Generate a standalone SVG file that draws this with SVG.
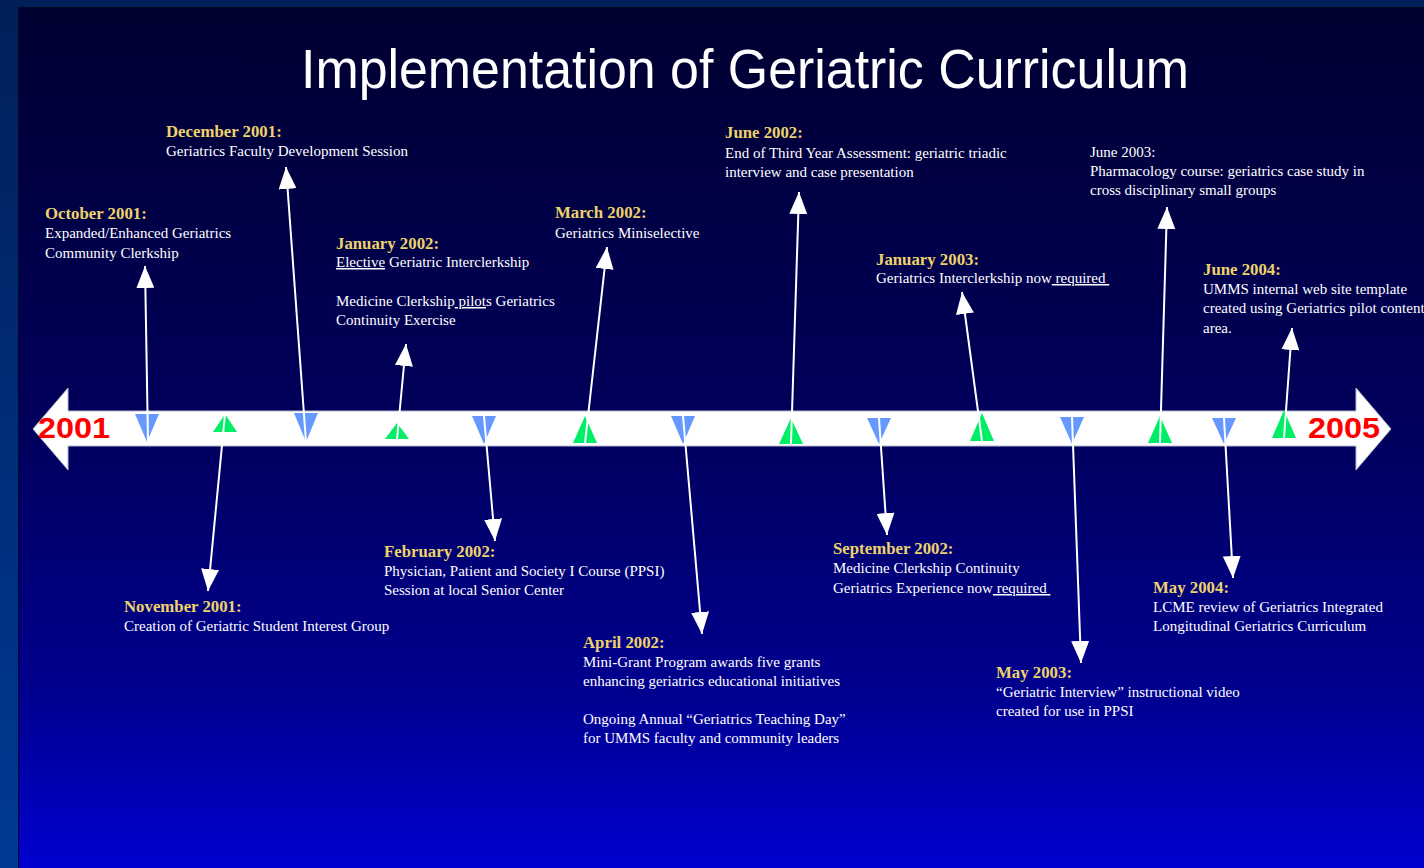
<svg xmlns="http://www.w3.org/2000/svg" width="1424" height="868" viewBox="0 0 1424 868">
<defs>
<linearGradient id="bg" x1="0" y1="0" x2="0" y2="1">
<stop offset="0" stop-color="#000030"/>
<stop offset="0.5" stop-color="#00005e"/>
<stop offset="0.8" stop-color="#000090"/>
<stop offset="1" stop-color="#0000d0"/>
</linearGradient>
<linearGradient id="frame" x1="0" y1="0" x2="0" y2="1">
<stop offset="0" stop-color="#001f5a"/>
<stop offset="1" stop-color="#003a94"/>
</linearGradient>
<marker id="ah" markerUnits="userSpaceOnUse" markerWidth="22" markerHeight="18" viewBox="0 0 22 18" refX="22" refY="9" orient="auto">
<path d="M0,0 L22,9 L0,18 z" fill="#ffffff"/>
</marker>
<style>
.t{font-family:"Liberation Sans",Arial,sans-serif;fill:#ffffff}
.yr{font-family:"Liberation Sans",Arial,sans-serif;font-weight:bold;font-size:29px;fill:#ff0000}
.h{font-family:"Liberation Serif","Times New Roman",serif;font-weight:bold;font-size:16.8px;fill:#eed36b}
.b{font-family:"Liberation Serif","Times New Roman",serif;font-size:15px;fill:#ffffff}
.u{text-decoration:underline}
.dn{fill:#6699ff}
.up{fill:#00ee66}
.c{stroke:#ffffff;stroke-width:2;fill:none;marker-end:url(#ah)}
</style>
</defs>
<rect x="0" y="0" width="1424" height="868" fill="url(#frame)"/>
<rect x="0" y="0" width="1424" height="8" fill="#001f5a"/>
<rect x="18" y="7" width="1406" height="861" fill="#000822"/>
<rect x="19" y="8" width="1405" height="860" fill="url(#bg)"/>
<text class="t" x="301" y="88" font-size="55" textLength="888" lengthAdjust="spacingAndGlyphs">Implementation of Geriatric Curriculum</text>
<g id="timeline">
<path d="M33,429 L68,388 L68,411 L1356,411 L1356,388 L1391,429 L1356,470 L1356,446 L68,446 L68,470 Z" fill="#ffffff" stroke="#b8b8d0" stroke-width="1"/>
<text class="yr" x="38" y="438" textLength="72" lengthAdjust="spacingAndGlyphs">2001</text>
<text class="yr" x="1308" y="438" textLength="72" lengthAdjust="spacingAndGlyphs">2005</text>
</g>
<g id="oct2001">
<polygon class="dn" points="135,414 159,414 147,442"/>
<text class="h" x="45" y="219">October 2001:</text>
<text class="b" x="45" y="238">Expanded/Enhanced Geriatrics</text>
<text class="b" x="45" y="258">Community Clerkship</text>
</g>
<g id="nov2001">
<polygon class="up" points="213,432 237,432 225,414"/>
<text class="h" x="124" y="612">November 2001:</text>
<text class="b" x="124" y="631">Creation of Geriatric Student Interest Group</text>
</g>
<g id="dec2001">
<polygon class="dn" points="294,413 318,413 306,442"/>
<text class="h" x="166" y="137">December 2001:</text>
<text class="b" x="166" y="156">Geriatrics Faculty Development Session</text>
</g>
<g id="jan2002">
<polygon class="up" points="385,439 409,439 397,423"/>
<text class="h" x="336" y="249">January 2002:</text>
<text class="b" x="336" y="267"><tspan class="u">Elective</tspan> Geriatric Interclerkship</text>
<text class="b" x="336" y="306">Medicine Clerkship<tspan class="u"> pilot</tspan>s Geriatrics</text>
<text class="b" x="336" y="325">Continuity Exercise</text>
</g>
<g id="feb2002">
<polygon class="dn" points="472,416 496,416 484,444"/>
<text class="h" x="384" y="557">February 2002:</text>
<text class="b" x="384" y="576">Physician, Patient and Society I Course (PPSI)</text>
<text class="b" x="384" y="595">Session at local Senior Center</text>
</g>
<g id="mar2002">
<polygon class="up" points="573,443 597,443 585,416"/>
<text class="h" x="555" y="218">March 2002:</text>
<text class="b" x="555" y="238">Geriatrics Miniselective</text>
</g>
<g id="apr2002">
<polygon class="dn" points="671,416 695,416 683,444"/>
<text class="h" x="583" y="648">April 2002:</text>
<text class="b" x="583" y="667">Mini-Grant Program awards five grants</text>
<text class="b" x="583" y="686">enhancing geriatrics educational initiatives</text>
<text class="b" x="583" y="724">Ongoing Annual “Geriatrics Teaching Day”</text>
<text class="b" x="583" y="743">for UMMS faculty and community leaders</text>
</g>
<g id="jun2002">
<polygon class="up" points="779,444 803,444 791,418"/>
<text class="h" x="725" y="138">June 2002:</text>
<text class="b" x="725" y="158">End of Third Year Assessment: geriatric triadic</text>
<text class="b" x="725" y="177">interview and case presentation</text>
</g>
<g id="sep2002">
<polygon class="dn" points="867,418 891,418 879,444"/>
<text class="h" x="833" y="554">September 2002:</text>
<text class="b" x="833" y="573">Medicine Clerkship Continuity</text>
<text class="b" x="833" y="593">Geriatrics Experience now<tspan class="u"> required&#160;</tspan></text>
</g>
<g id="jan2003">
<polygon class="up" points="970,441 994,441 982,413"/>
<text class="h" x="876" y="265">January 2003:</text>
<text class="b" x="876" y="283">Geriatrics Interclerkship now<tspan class="u"> required&#160;</tspan></text>
</g>
<g id="may2003">
<polygon class="dn" points="1060,417 1084,417 1072,444"/>
<text class="h" x="996" y="678">May 2003:</text>
<text class="b" x="996" y="697">“Geriatric Interview” instructional video</text>
<text class="b" x="996" y="716">created for use in PPSI</text>
</g>
<g id="jun2003">
<polygon class="up" points="1148,443 1172,443 1160,416"/>
<text class="b" x="1090" y="157">June 2003:</text>
<text class="b" x="1090" y="176">Pharmacology course: geriatrics case study in</text>
<text class="b" x="1090" y="195">cross disciplinary small groups</text>
</g>
<g id="may2004">
<polygon class="dn" points="1212,418 1236,418 1224,444"/>
<text class="h" x="1153" y="593">May 2004:</text>
<text class="b" x="1153" y="612">LCME review of Geriatrics Integrated</text>
<text class="b" x="1153" y="631">Longitudinal Geriatrics Curriculum</text>
</g>
<g id="jun2004">
<polygon class="up" points="1272,438 1296,438 1284,410"/>
<text class="h" x="1203" y="275">June 2004:</text>
<text class="b" x="1203" y="294">UMMS internal web site template</text>
<text class="b" x="1203" y="313">created using Geriatrics pilot content</text>
<text class="b" x="1203" y="333">area.</text>
</g>
<g id="connectors">
<line class="c" x1="148" y1="442" x2="145" y2="266"/>
<line class="c" x1="225" y1="414" x2="208" y2="591"/>
<line class="c" x1="306" y1="442" x2="286" y2="167"/>
<line class="c" x1="397" y1="439" x2="406" y2="344"/>
<line class="c" x1="484" y1="416" x2="495" y2="541"/>
<line class="c" x1="585" y1="443" x2="607" y2="247"/>
<line class="c" x1="683" y1="416" x2="702" y2="634"/>
<line class="c" x1="791" y1="444" x2="799" y2="192"/>
<line class="c" x1="879" y1="418" x2="887" y2="535"/>
<line class="c" x1="982" y1="441" x2="962" y2="292"/>
<line class="c" x1="1072" y1="417" x2="1081" y2="663"/>
<line class="c" x1="1160" y1="443" x2="1167" y2="207"/>
<line class="c" x1="1224" y1="418" x2="1233" y2="578"/>
<line class="c" x1="1284" y1="438" x2="1292" y2="328"/>
</g>
</svg>
